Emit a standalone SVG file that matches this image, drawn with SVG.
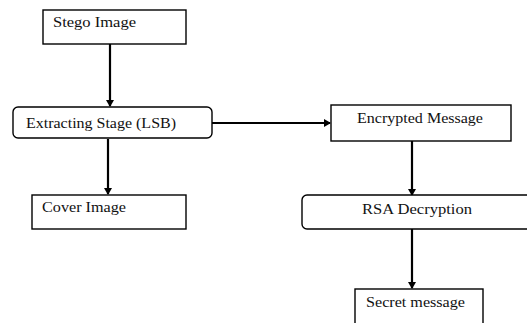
<svg xmlns="http://www.w3.org/2000/svg" width="527" height="323" viewBox="0 0 527 323">
  <defs>
    <marker id="arrow" markerWidth="7" markerHeight="8" refX="6" refY="4" orient="auto" markerUnits="userSpaceOnUse">
      <path d="M0,0 L7,4 L0,8 Z" fill="#000"/>
    </marker>
  </defs>
  <style>
    .box { fill: #fff; stroke: #000; stroke-width: 1.4; }
    .lbl { font-family: 'Liberation Serif', 'Times New Roman', serif; font-size: 14px; fill: #111; }
    .conn { stroke: #000; stroke-width: 2.2; fill: none; }
  </style>
  <rect width="527" height="323" fill="#fff"/>

  <!-- process flow -->
  <g id="connectors">
    <path class="conn" d="M110,44 V106" marker-end="url(#arrow)"/>
    <path class="conn" d="M108,139 V194" marker-end="url(#arrow)"/>
    <path class="conn" d="M212,123 H330" marker-end="url(#arrow)"/>
    <path class="conn" d="M412,141 V195" marker-end="url(#arrow)"/>
    <path class="conn" d="M412,229 V288" marker-end="url(#arrow)"/>
  </g>

  <g id="stego-image">
    <rect class="box" x="43" y="10" width="143" height="34"/>
    <text class="lbl" x="53" y="27" textLength="83" lengthAdjust="spacingAndGlyphs">Stego Image</text>
  </g>

  <g id="extracting-stage">
    <rect class="box" x="13" y="107" width="199" height="31" rx="5"/>
    <text class="lbl" x="26" y="128" textLength="150" lengthAdjust="spacingAndGlyphs">Extracting Stage (LSB)</text>
  </g>

  <g id="cover-image">
    <rect class="box" x="32" y="195" width="154" height="34"/>
    <text class="lbl" x="42" y="212" textLength="84" lengthAdjust="spacingAndGlyphs">Cover Image</text>
  </g>

  <g id="encrypted-message">
    <rect class="box" x="331" y="105" width="180" height="36"/>
    <text class="lbl" x="357" y="123" textLength="126" lengthAdjust="spacingAndGlyphs">Encrypted Message</text>
  </g>

  <g id="rsa-decryption">
    <rect class="box" x="302" y="195" width="240" height="34" rx="5"/>
    <text class="lbl" x="362" y="214" textLength="110" lengthAdjust="spacingAndGlyphs">RSA Decryption</text>
  </g>

  <g id="secret-message">
    <rect class="box" x="355" y="289" width="128" height="50"/>
    <text class="lbl" x="366" y="307" textLength="99" lengthAdjust="spacingAndGlyphs">Secret message</text>
  </g>
</svg>
